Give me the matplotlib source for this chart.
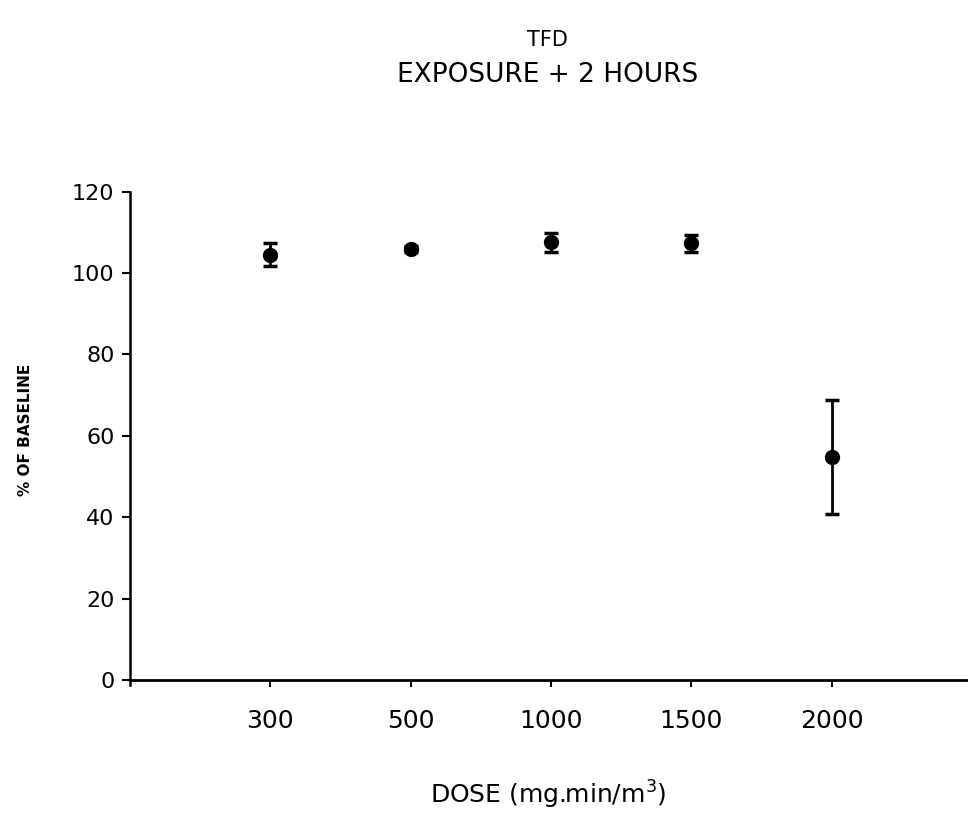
import matplotlib.pyplot as plt
import numpy as np

# data
doses = ['300', '500', '1000', '1500', '2000']
pct_baseline = [104.5, 105.9, 107.6, 107.3, 54.8]
err = [2.8, 0.8, 2.3, 2.0, 14.0]

fig = plt.figure(figsize=(9.68, 8.3), dpi=100)
ax = fig.add_axes([0.134, 0.175, 0.866, 0.594])

x = np.arange(1, len(doses) + 1)
ax.errorbar(x, pct_baseline, yerr=err, fmt='o', color='black',
            markersize=10, elinewidth=2, capsize=5, capthick=2.5)

ax.set_xlim(0.0, 5.97)
ax.set_ylim(-1.2, 120)
ax.set_xticks(x)
ax.set_xticklabels(doses)
ax.set_yticks(np.arange(0, 121, 20))
ax.tick_params(axis='y', labelsize=16, length=6, width=1.5, direction='out', pad=5)
ax.tick_params(axis='x', labelsize=18, length=5, width=1.5, direction='out', pad=16)

ax.spines['top'].set_visible(False)
ax.spines['right'].set_visible(False)
ax.spines['bottom'].set_position(('data', 0))
ax.spines['left'].set_linewidth(1.8)
ax.spines['bottom'].set_linewidth(2)

fig.text(0.026, 0.482, '% OF BASELINE', fontsize=11, fontweight='bold',
         rotation=90, ha='center', va='center')
fig.text(0.566, 0.042, 'DOSE (mg.min/m$^3$)', fontsize=18, ha='center', va='center')

fig.text(0.566, 0.952, 'TFD', fontsize=15, ha='center', va='center')
fig.text(0.566, 0.910, 'EXPOSURE + 2 HOURS', fontsize=19, ha='center', va='center')

fig.savefig('out.png', dpi=100)
